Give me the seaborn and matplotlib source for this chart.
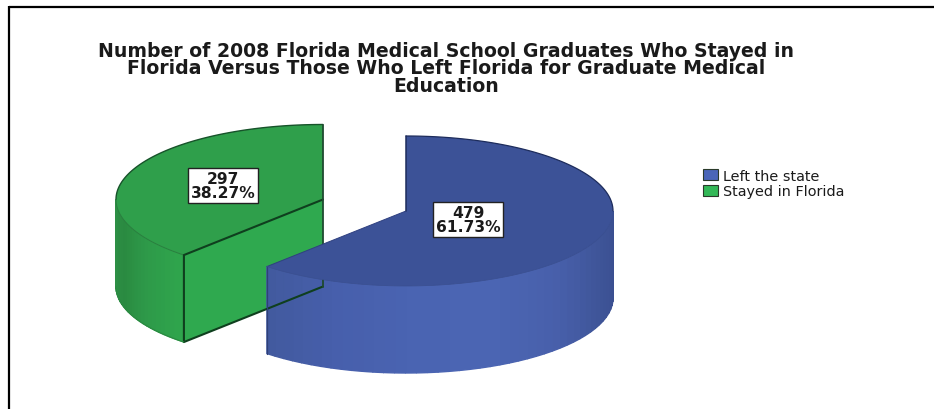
import numpy as np
import matplotlib
matplotlib.use("Agg")
import matplotlib.pyplot as plt
from matplotlib.patches import Patch
import seaborn as sns

# Graduate counts and their published shares
categories = ["Left the state", "Stayed in Florida"]
counts = [479, 297]
share_labels = ["61.73%", "38.27%"]
title_lines = [
    "Number of 2008 Florida Medical School Graduates Who Stayed in",
    "Florida Versus Those Who Left Florida for Graduate Medical",
    "Education",
]

# Drawing styles, in figure pixels
RX, RY, DEPTH = 207.0, 75.0, 87.0
CENTRES = {"Left the state": (406.0, 212.0), "Stayed in Florida": (323.0, 200.5)}
TOP_COLOURS = {"Left the state": "#3c5297", "Stayed in Florida": "#2f9f4b"}
SWATCHES = {"Left the state": "#4a66b8", "Stayed in Florida": "#33b857"}
LABEL_SHIFT = {"Left the state": (62, 8.5), "Stayed in Florida": (-100, -14)}

sns.set_theme(style="white")
plt.rcParams["font.family"] = ["DejaVu Sans"]

fig = plt.figure(figsize=(9.34, 4.10), dpi=100, facecolor="white")
ax = fig.add_axes([0, 0, 1, 1])
ax.set_xlim(0, 934)
ax.set_ylim(410, 0)
ax.axis("off")


def rim(cx, cy, deg):
    """Points on the top ellipse; angles run clockwise from twelve o'clock."""
    t = np.radians(deg)
    return cx + RX * np.sin(t), cy - RY * np.cos(t)


def draw_side(cx, cy, start, stop, palette):
    """Outer wall of a slice as narrow shaded strips."""
    edges = np.linspace(start, stop, len(palette) + 1)
    for a, b, colour in zip(edges[:-1], edges[1:], palette):
        arc = np.linspace(a, b, 6)
        x, y = rim(cx, cy, arc)
        ax.fill(np.r_[x, x[::-1]], np.r_[y, y[::-1] + DEPTH],
                facecolor=colour, edgecolor=colour, lw=1.0, zorder=3)


total = sum(counts)
split = 360.0 * counts[0] / total

# Green slice: cut face, curved wall, then its top
gx, gy = CENTRES["Stayed in Florida"]
fx, fy = rim(gx, gy, split)
ax.fill([gx, fx, fx, gx], [gy, fy, fy + DEPTH, gy + DEPTH],
        facecolor="#2fa94f", edgecolor="none", zorder=2)
green_wall = sns.blend_palette(["#2fa54d", "#2e9a49", "#2a8a41", "#2d8f45"], 24)
draw_side(gx, gy, split, 270, green_wall)
arc = np.linspace(split, 360, 120)
x, y = rim(gx, gy, arc)
ax.fill(np.r_[gx, x], np.r_[gy, y], facecolor=TOP_COLOURS["Stayed in Florida"],
        edgecolor="none", zorder=4)
ax.plot(*rim(gx, gy, np.linspace(270, 360, 90)), color="#17532a", lw=1.0, zorder=5)
ax.plot(*rim(gx, gy, np.linspace(split, 270, 40)), color="#2a7f3f", lw=0.7, zorder=5)
ax.plot([gx, fx, fx, gx], [gy, fy, fy + DEPTH, gy + DEPTH], color="#0f3f1e", lw=1.5, zorder=5)
ax.plot([gx, gx], [gy - RY, gy + DEPTH], color="#1f4a30", lw=1.3, zorder=5)
lx, ly = rim(gx, gy, np.linspace(split, 270, 40))
ax.plot(lx, ly + DEPTH, color="#2a8a41", lw=0.8, zorder=5)

# Blue slice sits in front of the green one
bx, by = CENTRES["Left the state"]
blue_wall = sns.blend_palette(
    ["#3a4f90", "#3f5599", "#4860ab", "#4b65b3", "#4a64b2", "#475fac", "#425a9f"], 44)
draw_side(bx, by, 90, split, blue_wall)
arc = np.linspace(0, split, 200)
x, y = rim(bx, by, arc)
ax.fill(np.r_[bx, x], np.r_[by, y], facecolor=TOP_COLOURS["Left the state"],
        edgecolor="none", zorder=6)
ex, ey = rim(bx, by, split)
ax.plot([ex, ex], [ey, ey + DEPTH], color="#2f4078", lw=0.9, zorder=7)
ax.plot([ex, bx], [ey, by], color="#2f4080", lw=0.7, zorder=7)
ax.plot([bx, bx], [by, by - RY], color="#1d2c5c", lw=1.1, zorder=7)
ax.plot(*rim(bx, by, np.linspace(0, 90, 80)), color="#1d2c5c", lw=0.9, zorder=7)
ax.plot(*rim(bx, by, np.linspace(90, split, 120)), color="#3a4f90", lw=0.5, zorder=7)

# Count and share labels
for name, count, share in zip(categories, counts, share_labels):
    cx, cy = CENTRES[name]
    dx, dy = LABEL_SHIFT[name]
    ax.text(cx + dx, cy + dy, f"{count}\n{share}", ha="center", va="center",
            fontweight="bold", fontsize=11.2, linespacing=0.9,
            color="#1a1a1a", zorder=9,
            bbox=dict(boxstyle="square,pad=0.2", fc="white", ec="#222222", lw=1.0))

# Title as one centred block
ax.text(446, 69, "\n".join(title_lines), ha="center", va="center", multialignment="center",
        fontweight="bold", fontsize=13.6, linespacing=0.88, color="#1a1a1a", zorder=9)

# Outer frame: top and left rules only
ax.plot([9, 934], [8, 8], color="black", lw=1.6, solid_capstyle="butt", zorder=10)
ax.plot([9, 9], [7.2, 410], color="black", lw=1.6, solid_capstyle="butt", zorder=10)

handles = [Patch(facecolor=SWATCHES[c], edgecolor="#2a3a2a", lw=0.8, label=c) for c in categories]
ax.legend(handles=handles, loc="upper left", bbox_to_anchor=(699 / 934, 1 - 165.5 / 410),
          frameon=False, fontsize=10.4, labelspacing=0.1, handlelength=1.04,
          handleheight=0.77, handletextpad=0.3, borderpad=0.3, borderaxespad=0,
          labelcolor="#1a1a1a")

fig.savefig("out.png", dpi=100, facecolor="white")
